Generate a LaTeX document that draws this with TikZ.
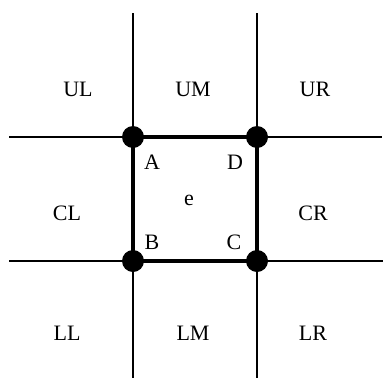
\documentclass[tikz,border=0pt]{standalone}
\usepackage{fontspec}
\setmainfont{Liberation Serif}
\usetikzlibrary{positioning}

\begin{document}
\begin{tikzpicture}[x=1pt,y=-1pt,
    thin line/.style={line width=1.3pt},
    thick line/.style={line width=4.2pt},
    vertex/.style={circle,fill=black,inner sep=0pt,minimum size=22pt},
    lbl/.style={font=\fontsize{22}{26}\selectfont,inner sep=0pt}]
    \useasboundingbox (0,0) rectangle (385,378);
    % grid line ends
    \coordinate (vl top) at (133,13);
    \coordinate (vl bot) at (133,378);
    \coordinate (vr top) at (257,13);
    \coordinate (vr bot) at (257,378);
    \coordinate (ht left) at (9,137);
    \coordinate (ht right) at (382,137);
    \coordinate (hb left) at (9,261);
    \coordinate (hb right) at (383,261);
    \draw[thin line] (vl top) -- (vl bot);
    \draw[thin line] (vr top) -- (vr bot);
    \draw[thin line] (ht left) -- (ht right);
    \draw[thin line] (hb left) -- (hb right);
    % element e
    \node[vertex] (pA) at (133,137) {};
    \node[vertex] (pD) at (257,137) {};
    \node[vertex] (pB) at (133,261) {};
    \node[vertex] (pC) at (257,261) {};
    \draw[thick line] (pA.center) -- (pD.center) -- (pC.center) -- (pB.center) -- cycle;
    \node[lbl] (A) at (152,162) {A};
    \node[lbl] (D) at (235,162) {D};
    \node[lbl] (B) at (152,242) {B};
    \node[lbl] (C) at (234,242) {C};
    \node[lbl] (e) at (189,200) {e};
    % neighbours
    \node[lbl] (UL) at (78,89) {UL};
    \node[lbl] (UM) at (193,89) {UM};
    \node[lbl] (UR) at (315,89) {UR};
    \node[lbl] (CL) at (67,213) {CL};
    \node[lbl] (CR) at (313,213) {CR};
    \node[lbl] (LL) at (67,333) {LL};
    \node[lbl] (LM) at (193,333) {LM};
    \node[lbl] (LR) at (313,333) {LR};
\end{tikzpicture}
\end{document}
